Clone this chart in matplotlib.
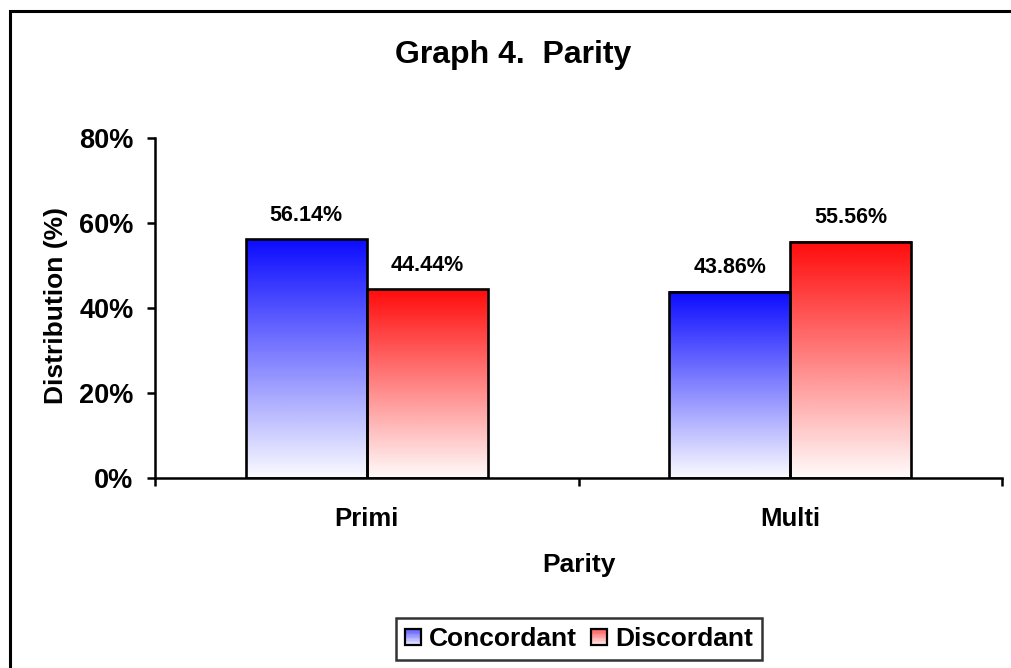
import numpy as np
import matplotlib.pyplot as plt
from matplotlib.colors import LinearSegmentedColormap
from matplotlib.patches import Rectangle
from matplotlib.legend_handler import HandlerBase

plt.rcParams['font.family'] = ['Liberation Sans', 'DejaVu Sans']
plt.rcParams['font.weight'] = 'bold'

categories = ["Primi", "Multi"]
series = ["Concordant", "Discordant"]
concordant = [56.14, 43.86]
discordant = [44.44, 55.56]
top_colors = ["#0000ff", "#ff0000"]

fig = plt.figure(figsize=(10.11, 6.68), dpi=100)
ax = fig.add_axes([155 / 1011, 1 - 478 / 668, 847 / 1011, 340 / 668])

# outer frame round the whole chart
fig.patches.append(Rectangle((10 / 1011, -0.01), 1.1, 1 - 11 / 668 + 0.01,
                             transform=fig.transFigure, fill=False,
                             edgecolor="black", linewidth=2.2, clip_on=False))

width = 0.286
x = np.arange(len(categories)) + 0.5
grad = np.linspace(0, 1, 256).reshape(-1, 1)

for i, (vals, col) in enumerate(zip([concordant, discordant], top_colors)):
    cmap = LinearSegmentedColormap.from_list("g" + str(i), ["white", col])
    offs = x - width / 2 if i == 0 else x + width / 2
    bars = ax.bar(offs, vals, width, facecolor="none", edgecolor="black",
                  linewidth=1.9, zorder=3)
    for b, v in zip(bars, vals):
        x0 = b.get_x()
        ax.imshow(grad, cmap=cmap, origin="lower", aspect="auto",
                  extent=[x0, x0 + width, 0, v], zorder=2, vmin=-0.02, vmax=1.05)
        ax.text(x0 + width / 2, v + 3.2, f"{v:.2f}%", ha="center", va="bottom",
                fontsize=15.5, fontweight="bold")

ax.set_xlim(0, 2)
ax.set_ylim(0, 80)
ax.set_yticks([0, 20, 40, 60, 80])
ax.set_yticklabels([f"{t}%" for t in [0, 20, 40, 60, 80]], fontsize=19.5)
ax.set_xticks([0, 1, 2])
ax.set_xticklabels([])
ax.set_xticks(x, minor=True)
ax.set_xticklabels(categories, minor=True, fontsize=18.5)
ax.tick_params(axis="x", which="minor", length=0, pad=21)
ax.tick_params(axis="x", which="major", length=5.5, width=1.8, direction="out")
ax.tick_params(axis="y", length=5.5, width=1.8, direction="out", pad=10)
for s in ["top", "right"]:
    ax.spines[s].set_visible(False)
for s in ["left", "bottom"]:
    ax.spines[s].set_linewidth(1.8)

ax.set_xlabel("Parity", fontsize=19, fontweight="bold")
ax.xaxis.set_label_coords(0.5, (478 - 565) / 340)
ax.xaxis.label.set_verticalalignment("center")
ax.set_ylabel("Distribution (%)", fontsize=19, fontweight="bold")
ax.yaxis.set_label_coords((56 - 155) / 847, (478 - 305) / 340)
ax.yaxis.label.set_verticalalignment("center")
fig.text(513 / 1011, 1 - 55 / 668, "Graph 4.  Parity", ha="center", va="center",
         fontsize=23, fontweight="bold")


class GradientHandler(HandlerBase):
    def __init__(self, color):
        super().__init__()
        self.color = color

    def create_artists(self, legend, orig_handle, xdescent, ydescent, width,
                       height, fontsize, trans):
        cmap = LinearSegmentedColormap.from_list("h", ["white", self.color])
        side = min(width, height)
        x0 = -xdescent + (width - side) / 2
        y0 = -ydescent + (height - side) / 2
        n = 12
        arts = []
        for k in range(n):
            arts.append(Rectangle((x0, y0 + side * k / n), side, side / n,
                                  facecolor=cmap(0.1 + 0.6 * k / n),
                                  edgecolor="none", transform=trans))
        arts.append(Rectangle((x0, y0), side, side, facecolor="none",
                              edgecolor="black", linewidth=1.6, transform=trans))
        return arts


h1 = Rectangle((0, 0), 1, 1)
h2 = Rectangle((0, 1), 1, 1)
leg = fig.legend([h1, h2], series, loc="center", ncol=2,
                 bbox_to_anchor=(579 / 1011, 1 - 639 / 668),
                 handler_map={h1: GradientHandler("#0000ff"),
                              h2: GradientHandler("#ff0000")},
                 prop={"size": 19, "weight": "bold"}, frameon=True, fancybox=False,
                 handlelength=0.6, handleheight=0.6, handletextpad=0.3,
                 columnspacing=0.55, borderpad=0.35, edgecolor="black")
leg.get_frame().set_linewidth(1.8)

fig.savefig("out.png", dpi=100)
